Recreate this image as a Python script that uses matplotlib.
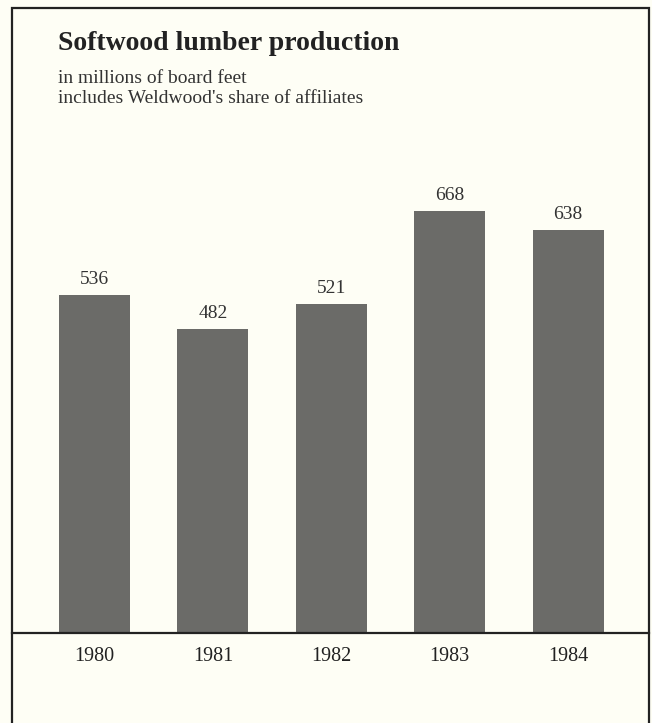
import matplotlib.pyplot as plt
from matplotlib.patches import Rectangle

years = ['1980', '1981', '1982', '1983', '1984']
production = [536, 482, 521, 668, 638]

W, H = 652, 723
bg = '#fefef5'
bar_color = '#6b6b68'

plt.rcParams['font.family'] = ['Liberation Serif', 'DejaVu Serif']

fig = plt.figure(figsize=(W / 100, H / 100), dpi=100)
fig.patch.set_facecolor(bg)

# frame around the whole chart (open at the bottom, as in the print)
fig.add_artist(Rectangle((12 / W, -0.02), (649 - 12) / W, (723 - 8) / H + 0.02,
                         transform=fig.transFigure, fill=False,
                         edgecolor='#222222', linewidth=1.6))

# axes: left edge at frame, baseline at y=633 px
left, right = 12 / W, 649 / W
bottom, top = (H - 633) / H, (H - 8) / H
ax = fig.add_axes([left, bottom, right - left, top - bottom])
ax.set_facecolor('none')

x = list(range(len(years)))
ax.bar(x, production, width=0.6, color=bar_color, edgecolor='none')
ax.set_xlim(-0.697, 4.684)
ax.set_ylim(0, 990)

for xi, v in zip(x, production):
    ax.annotate(str(v), (xi, v), xytext=(0, 5), textcoords='offset points',
                ha='center', va='bottom', fontsize=14, color='#333333')

ax.axhline(0, color='#222222', linewidth=1.6, clip_on=False)
ax.set_xticks(x)
ax.set_xticklabels(years, fontsize=14.5, color='#222222')
ax.tick_params(axis='x', length=0, pad=10)
ax.set_yticks([])
for s in ax.spines.values():
    s.set_visible(False)

fig.text(58 / W, 1 - 50 / H, 'Softwood lumber production', fontsize=20, fontweight='bold',
         color='#222222', ha='left', va='baseline')
fig.text(58 / W, 1 - 83 / H, 'in millions of board feet', fontsize=14,
         color='#333333', ha='left', va='baseline')
fig.text(58 / W, 1 - 103 / H, "includes Weldwood's share of affiliates", fontsize=14,
         color='#333333', ha='left', va='baseline')

fig.savefig('out.png', dpi=100, facecolor=bg)
